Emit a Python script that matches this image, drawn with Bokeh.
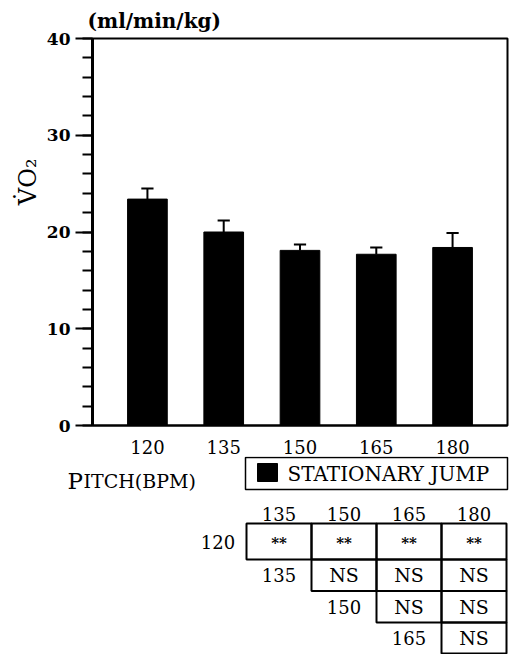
from bokeh.plotting import figure
from bokeh.layouts import column, row
from bokeh.models import Range1d, FixedTicker, Title, ColumnDataSource
from bokeh.core.properties import value
from bokeh.embed import file_html
from bokeh.resources import INLINE

# ---- data ----
pitch = ["120", "135", "150", "165", "180"]
vo2_mean = [23.4, 20.0, 18.1, 17.7, 18.4]
vo2_err = [1.1, 1.2, 0.6, 0.7, 1.5]
y_ticks = [0, 10, 20, 30, 40]
legend_label = "STATIONARY JUMP"
table_cols = ["135", "150", "165", "180"]
table_rows = ["120", "135", "150", "165"]
table_sig = [["**", "**", "**", "**"],
             ["NS", "NS", "NS"],
             ["NS", "NS"],
             ["NS"]]

SERIF = "DejaVu Serif"

# ---- top chart ----
p = figure(width=509, height=456, output_backend="svg", toolbar_location=None,
           x_range=Range1d(-0.72, 4.72), y_range=Range1d(0, 40),
           min_border_left=92, min_border_right=2, min_border_top=38, min_border_bottom=29)
p.xgrid.visible = False
p.ygrid.visible = False
p.outline_line_color = "black"
p.outline_line_width = 2

idx = list(range(len(pitch)))
src = ColumnDataSource(dict(x=idx, top=vo2_mean,
                            up=[m + e for m, e in zip(vo2_mean, vo2_err)],
                            cl=[i - 0.08 for i in idx], cr=[i + 0.08 for i in idx]))
p.vbar(x="x", top="top", width=0.52, bottom=0, source=src, fill_color="black", line_color="black")
p.segment(x0="x", y0="top", x1="x", y1="up", source=src, line_color="black", line_width=2)
p.segment(x0="cl", y0="up", x1="cr", y1="up", source=src, line_color="black", line_width=2)

ya = p.yaxis[0]
ya.ticker = FixedTicker(ticks=y_ticks, minor_ticks=list(range(0, 41, 2)))
ya.major_tick_out = 17
ya.major_tick_in = 0
ya.minor_tick_out = 10
ya.minor_tick_in = 0
ya.major_tick_line_width = 2
ya.minor_tick_line_width = 2
ya.axis_line_width = 3
ya.major_label_text_font = SERIF
ya.major_label_text_font_style = "bold"
ya.major_label_text_font_size = "17px"
ya.major_label_text_color = "black"
ya.major_label_standoff = 5

xa = p.xaxis[0]
xa.ticker = FixedTicker(ticks=idx)
xa.major_label_overrides = {i: s for i, s in zip(idx, pitch)}
xa.major_tick_line_color = None
xa.minor_tick_line_color = None
xa.axis_line_width = 2
xa.major_label_text_font = SERIF
xa.major_label_text_font_size = "18px"
xa.major_label_text_color = "black"
xa.major_label_standoff = 8

p.add_layout(Title(text="(ml/min/kg)", align="left", offset=-5, text_font=SERIF, text_font_size="20px",
                   text_font_style="bold", text_color="black", standoff=11), "above")
p.add_layout(Title(text="V\u0307O\u2082", align="right", offset=120, text_font=SERIF, text_font_size="24px",
                   text_font_style="normal", text_color="black", standoff=4), "left")

# ---- bottom: legend + significance table ----
q = figure(width=509, height=198, output_backend="svg", toolbar_location=None,
           x_range=Range1d(0, 509), y_range=Range1d(654, 456),
           x_axis_location=None, y_axis_location=None,
           min_border=0, min_border_left=0, min_border_right=0, min_border_top=0, min_border_bottom=0)
q.xgrid.visible = False
q.ygrid.visible = False
q.outline_line_color = None

# legend
q.quad(left=[245], right=[507], top=[457], bottom=[489], fill_color=None, line_color="black", line_width=1.5)
q.quad(left=[257], right=[277], top=[463], bottom=[481], fill_color="black", line_color="black")
q.text(x=[287], y=[473], text=[legend_label], text_font=value(SERIF), text_font_size="20px",
       text_baseline="middle", text_align="left", text_color="black")

# x-axis title (small caps look)
q.text(x=[67], y=[480], text=["P"], text_font=value(SERIF), text_font_size="23px",
       text_baseline="alphabetic", text_align="left", text_color="black")
q.text(x=[83], y=[480], text=["ITCH(BPM)"], text_font=value(SERIF), text_font_size="19px",
       text_baseline="alphabetic", text_align="left", text_color="black")

# table layout
X0, CW = 246, 65
row_tops = [523, 559, 590.5, 622]
row_bots = [559, 590.5, 622, 653]

hx = [X0 + CW * j + CW / 2 for j in range(len(table_cols))]
q.text(x=hx, y=[513] * len(hx), text=table_cols, text_font=value(SERIF), text_font_size="18px",
       text_align="center", text_baseline="middle", text_color="black")

cl, cr, ct, cb, tx, ty, tt = [], [], [], [], [], [], []
rlx, rly = [], []
for i, r in enumerate(table_sig):
    start = len(table_cols) - len(r)
    for k, s in enumerate(r):
        j = start + k
        cl.append(X0 + CW * j); cr.append(X0 + CW * (j + 1))
        ct.append(row_tops[i]); cb.append(row_bots[i])
        tx.append(X0 + CW * j + CW / 2); ty.append((row_tops[i] + row_bots[i]) / 2); tt.append(s)
    rlx.append(X0 + CW * (start - 1) + CW / 2 + (4 if i == 0 else 0))
    rly.append((row_tops[i] + row_bots[i]) / 2)

q.quad(left=cl, right=cr, top=ct, bottom=cb, fill_color=None, line_color="black", line_width=2)
ns = [k for k, s in enumerate(tt) if s != "**"]
st = [k for k, s in enumerate(tt) if s == "**"]
q.text(x=[tx[k] for k in ns], y=[ty[k] for k in ns], text=[tt[k] for k in ns], text_font=value(SERIF),
       text_font_size="19px", text_align="center", text_baseline="middle", text_color="black")
q.text(x=[tx[k] for k in st], y=[ty[k] + 1 for k in st], text=[tt[k] for k in st], text_font=value(SERIF),
       text_font_size="15px", text_font_style="bold", text_align="center", text_baseline="middle",
       text_color="black")
q.text(x=rlx, y=rly, text=table_rows, text_font=value(SERIF), text_font_size="18px",
       text_align="center", text_baseline="middle", text_color="black")

layout = column(p, row(q), spacing=0)
open("out.html", "w").write(file_html(layout, INLINE))
